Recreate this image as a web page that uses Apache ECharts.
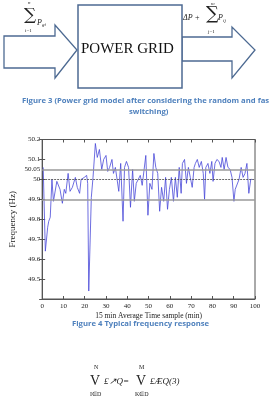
<!DOCTYPE html>
<html>
<head>
<meta charset="utf-8">
<script src="https://cdn.jsdelivr.net/npm/echarts@6/dist/echarts.min.js"></script>
<style>
html, body { margin: 0; padding: 0; background: #fff; }
#main { width: 269px; height: 396px; }
</style>
</head>
<body>
<div id="main"></div>
<script>
// sample position (x axis, min)
var sampleX = [0.5, 1.5, 2.6, 3.1, 3.8, 4.6, 5.3, 6.1, 6.9, 7.6, 8.4, 9.5, 10.4, 11.1, 12.2, 13.1, 14.2, 15.6, 16.5, 17.6, 18.3, 19.2, 19.8, 20.9, 21.4,
	21.9, 23.1, 23.9, 25.0, 25.9, 26.9, 28.0, 28.9, 30.0, 30.8, 31.7, 32.8, 33.5, 34.4, 35.2, 36.0, 36.9, 38.0, 38.7, 39.6, 40.6,
	41.5, 42.5, 43.3, 44.2, 45.1, 46.1, 47.0, 47.9, 48.7, 49.7, 50.6, 51.6, 52.5, 53.4, 54.3, 55.2, 56.1, 57.1, 58.0, 58.9, 59.8,
	60.7, 61.7, 62.6, 63.5, 64.4, 65.3, 65.9, 66.9, 67.8, 68.7, 69.6, 70.5, 71.4, 72.0, 72.9, 73.8, 74.8, 75.7, 76.3, 76.9, 77.9,
	78.8, 79.7, 80.3, 81.2, 82.1, 83.1, 84.0, 84.6, 85.5, 86.4, 87.3, 88.3, 89.2, 90.1, 90.7, 91.6, 92.5, 93.5, 94.4, 95.3, 96.2,
	97.1, 98.0, 98.7];
// frequency (Hz)
var freqHz = [50.06, 49.64, 49.76, 49.79, 49.81, 50.0, 49.89, 49.9, 49.99, 49.99, 49.95, 49.88, 49.95, 49.93, 50.03, 49.94, 49.96, 50.01, 49.96, 49.93, 50.0, 49.99, 50.01, 50.02, 49.98,
	49.44, 49.91, 50.01, 50.18, 50.11, 50.15, 50.05, 50.10, 50.12, 50.04, 50.06, 50.10, 50.03, 50.06, 50.0, 49.94, 50.08, 49.79, 50.06, 50.09, 50.06,
	49.86, 50.05, 49.89, 49.98, 49.98, 50.02, 49.97, 49.97, 50.12, 49.82, 49.98, 49.95, 50.13, 50.06, 50.03, 49.84, 49.96, 49.89, 50.01, 49.85, 49.95,
	50.01, 49.89, 50.01, 49.91, 50.06, 49.93, 50.08, 50.10, 49.98, 50.06, 50.01, 49.96, 50.06, 50.08, 50.10, 50.06, 50.09, 50.03, 49.90, 50.06, 50.08,
	50.03, 50.09, 49.99, 50.08, 50.10, 50.09, 50.06, 50.11, 50.05, 50.11, 50.06, 50.05, 50.01, 49.89, 49.95, 49.95, 50.0, 50.06, 50.01, 50.03, 50.08,
	49.93, 50.0, 50.0];
// reference lines: limits and nominal
var limitLines = [50.05, 49.9];
var nominalHz = 50;

var captionBlue = '#4f81bd';
var boxColor = '#4d6a92';

var lineData = [];
for(var i = 0; i < sampleX.length; i++){
	lineData.push([sampleX[i], freqHz[i]]);
}

function fmtY(v){
	var r = Math.round(v * 100) / 100;
	if(r < 49.45){
		return '';
	}
	return String(r);
}

var chart = echarts.init(document.getElementById('main'), null, {renderer : 'canvas'});

var serif = 'Liberation Serif';
var capFont = 'bold 7.7px "Open Sans"';

var option = {
	backgroundColor : '#fff',
	animation : false,
	grid : {
		left : 36.7,
		right : 14,
		top : 139.5,
		bottom : 97,
		show : true,
		borderColor : '#555',
		borderWidth : 1
	},
	xAxis : [{
		type : 'value',
		min : 0,
		max : 100,
		interval : 10,
		name : '15 min Average Time sample (min)',
		nameLocation : 'middle',
		nameGap : 13,
		nameTextStyle : { fontFamily : serif, fontSize : 7.5, color : '#222' },
		axisLine : { lineStyle : { color : '#555' } },
		axisTick : { inside : true, length : 3, lineStyle : { color : '#555' } },
		axisLabel : { fontFamily : serif, fontSize : 7, color : '#222', margin : 4 },
		splitLine : { show : false }
	}, {
		type : 'value',
		position : 'top',
		min : 0,
		max : 100,
		interval : 10,
		axisLine : { lineStyle : { color : '#555' } },
		axisTick : { inside : true, length : 3, lineStyle : { color : '#555' } },
		axisLabel : { show : false },
		splitLine : { show : false }
	}],
	yAxis : [{
		type : 'value',
		min : 49.4,
		max : 50.2,
		interval : 0.1,
		name : 'Frequency (Hz)',
		nameLocation : 'middle',
		nameGap : 14,
		nameRotate : 90,
		nameTextStyle : { fontFamily : serif, fontSize : 9, color : '#222' },
		axisLine : { lineStyle : { color : '#555' } },
		axisTick : { inside : true, length : 3, lineStyle : { color : '#555' } },
		axisLabel : { fontFamily : serif, fontSize : 7, color : '#222', margin : 2, formatter : fmtY },
		splitLine : { show : false }
	}, {
		type : 'value',
		position : 'right',
		min : 49.4,
		max : 50.2,
		interval : 0.1,
		axisLine : { lineStyle : { color : '#555' } },
		axisTick : { inside : true, length : 3, lineStyle : { color : '#555' } },
		axisLabel : { show : false },
		splitLine : { show : false }
	}],
	series : [{
		type : 'line',
		data : lineData,
		showSymbol : false,
		symbol : 'none',
		lineStyle : { color : '#4848d8', width : 0.8 },
		markLine : {
			silent : true,
			symbol : 'none',
			animation : false,
			data : [
				{
					yAxis : limitLines[0],
					lineStyle : { color : '#9a9a9a', width : 1.6, type : 'solid' },
					label : { show : true, position : 'start', formatter : '50.05', fontFamily : serif, fontSize : 7, color : '#222', distance : 2 }
				},
				{
					yAxis : limitLines[1],
					lineStyle : { color : '#9a9a9a', width : 1.6, type : 'solid' },
					label : { show : false }
				},
				{
					yAxis : nominalHz,
					lineStyle : { color : '#444', width : 0.8, type : [2, 1] },
					label : { show : false }
				}
			]
		},
		z : 3
	}],
	graphic : [
		// left arrow
		{
			type : 'polygon',
			shape : { points : [[4, 36], [55, 36], [55, 25], [77, 50], [55, 78], [55, 68], [4, 68]] },
			style : { fill : '#fff', stroke : boxColor, lineWidth : 1.3 }
		},
		// right arrow
		{
			type : 'polygon',
			shape : { points : [[182, 37], [232, 37], [232, 27], [255, 50], [232, 78], [232, 61], [182, 61]] },
			style : { fill : '#fff', stroke : boxColor, lineWidth : 1.3 }
		},
		// power grid box
		{
			type : 'rect',
			shape : { x : 78, y : 5, width : 104, height : 83 },
			style : { fill : '#fff', stroke : boxColor, lineWidth : 1.5 }
		},
		{
			type : 'text',
			left : 81, top : 42,
			style : { text : 'POWER GRID', font : '15px "Liberation Serif"', fill : '#111' }
		},
		// left formula
		{ type : 'text', left : 28, top : 0, style : { text : 'n', font : 'italic 5px "Liberation Serif"', fill : '#222' } },
		{ type : 'text', left : 24, top : 7, style : { text : '\u2211', font : '17px "DejaVu Serif"', fill : '#222' } },
		{ type : 'text', left : 37, top : 19, style : { text : 'P', font : 'italic 8px "Liberation Serif"', fill : '#222' } },
		{ type : 'text', left : 42, top : 22, style : { text : 'gi', font : 'italic 5px "Liberation Serif"', fill : '#222' } },
		{ type : 'text', left : 25, top : 28, style : { text : 'i=1', font : '5px "Liberation Serif"', fill : '#222' } },
		// right formula
		{ type : 'text', left : 183, top : 14, style : { text : '\u0394P +', font : 'italic 8px "Liberation Serif"', fill : '#222' } },
		{ type : 'text', left : 211, top : 1, style : { text : 'm', font : 'italic 5px "Liberation Serif"', fill : '#222' } },
		{ type : 'text', left : 206, top : 5, style : { text : '\u2211', font : '18px "DejaVu Serif"', fill : '#222' } },
		{ type : 'text', left : 208, top : 29, style : { text : 'j=1', font : '5px "Liberation Serif"', fill : '#222' } },
		{ type : 'text', left : 218, top : 14, style : { text : 'P', font : 'italic 8px "Liberation Serif"', fill : '#222' } },
		{ type : 'text', left : 223, top : 18, style : { text : 'ij', font : 'italic 5px "Liberation Serif"', fill : '#222' } },
		// captions
		{ type : 'text', left : 22, top : 97, style : { text : 'Figure 3 (Power grid model after considering the random and fast', font : capFont, fill : captionBlue } },
		{ type : 'text', left : 129, top : 108, style : { text : 'switching)', font : capFont, fill : captionBlue } },
		{ type : 'text', left : 72, top : 320, style : { text : 'Figure 4 Typical frequency response', font : capFont, fill : captionBlue } },
		// equation (3)
		{ type : 'text', left : 94, top : 364, style : { text : 'N', font : '6px "Liberation Serif"', fill : '#222' } },
		{ type : 'text', left : 139, top : 364, style : { text : 'M', font : '6px "Liberation Serif"', fill : '#222' } },
		{ type : 'text', left : 90, top : 374, style : { text : 'V', font : '14px "Liberation Serif"', fill : '#222' } },
		{ type : 'text', left : 104, top : 377, style : { text : '\u00a3\u2197Q=', font : 'italic 9px "Liberation Serif"', fill : '#222' } },
		{ type : 'text', left : 136, top : 374, style : { text : 'V', font : '14px "Liberation Serif"', fill : '#222' } },
		{ type : 'text', left : 150, top : 377, style : { text : '\u00a3\u00c6Q(3)', font : 'italic 9px "Liberation Serif"', fill : '#222' } },
		{ type : 'text', left : 90, top : 391, style : { text : 'I\u2208D', font : '6px "Liberation Serif"', fill : '#222' } },
		{ type : 'text', left : 135, top : 391, style : { text : 'K\u2208D', font : '6px "Liberation Serif"', fill : '#222' } }
	]
};

chart.setOption(option);
</script>
</body>
</html>
